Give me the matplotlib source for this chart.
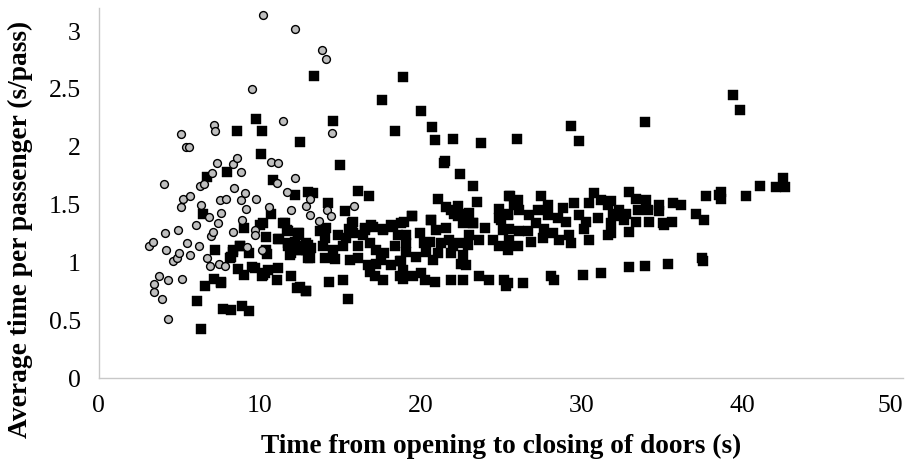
import matplotlib
matplotlib.use("Agg")
import matplotlib.pyplot as plt

# Series 1 (grey circles)
circle_x = [3.13, 3.38, 3.43, 3.43, 3.73, 3.93, 4.02, 4.1, 4.2, 4.27, 4.3, 4.62, 4.83, 4.89, 4.97,
            5.09, 5.1, 5.14, 5.26, 5.4, 5.45, 5.6, 5.65, 5.69, 6.07, 6.21, 6.27, 6.34, 6.54, 6.71,
            6.85, 6.89, 7.0, 7.06, 7.12, 7.18, 7.22, 7.33, 7.41, 7.45, 7.56, 7.6, 7.87, 7.93, 8.34,
            8.34, 8.4, 8.59, 8.86, 8.86, 8.88, 9.11, 9.13, 9.21, 9.5, 9.69, 9.73, 9.75, 10.14, 10.19,
            10.6, 10.73, 11.1, 11.16, 11.47, 11.72, 11.95, 12.17, 12.2, 12.86, 13.1, 13.1, 13.66,
            13.86, 14.12, 14.2, 14.45, 14.48, 15.84]
circle_y = [1.14, 1.18, 0.81, 0.74, 0.88, 0.68, 1.68, 1.25, 1.11, 0.51, 0.85, 1.01, 1.04, 1.28, 1.08,
            1.48, 2.11, 0.86, 1.55, 2.0, 1.17, 2.0, 1.57, 1.06, 1.32, 1.14, 1.66, 1.50, 1.68, 1.04,
            1.39, 0.97, 1.23, 1.77, 1.26, 2.19, 2.14, 1.86, 1.34, 0.99, 1.54, 1.43, 0.97, 1.55, 1.85,
            1.26, 1.64, 1.90, 1.78, 1.54, 1.37, 1.60, 1.46, 1.13, 2.5, 1.28, 1.24, 1.55, 1.11, 3.14,
            1.48, 1.87, 1.69, 1.86, 2.22, 1.61, 1.45, 1.73, 3.02, 1.49, 1.55, 1.41, 1.36,
            2.84, 2.76, 1.45, 1.40, 2.12, 1.49]

# Series 2 (black squares)
square_x = [9.77, 8.6, 10.12, 12.5, 10.06, 13.4, 18.94, 17.59, 20.06, 14.54, 18.42, 20.74, 20.87,
            22.05, 23.77, 25.99, 21.5, 29.35, 29.87, 33.98, 39.4, 39.86,
            7.97, 6.75, 10.8, 12.17, 13.0, 6.48, 10.7, 9.0, 10.04, 11.45, 11.72, 12.4, 11.2, 10.4,
            7.25, 8.34, 8.8, 9.32, 8.24, 10.48, 11.76, 12.17, 11.97, 13.0, 13.1, 12.38, 8.66, 9.05,
            9.55, 10.3, 10.15, 11.12, 11.06, 11.97, 7.14, 7.58, 6.63, 6.13, 12.34, 12.9, 7.7, 8.24,
            8.93, 9.34, 6.38,
            11.55, 10.2, 11.14, 11.76, 11.76, 12.38, 12.38, 12.9, 11.86, 8.34, 8.76, 8.14, 10.42,
            9.69, 10.2, 10.52, 7.62,
            14.97, 21.45, 22.48, 23.29, 16.1, 16.77, 21.08, 23.5, 14.24, 15.32, 15.8, 21.6, 22.32,
            21.9, 23.0, 22.32, 23.26, 23.98, 24.87, 25.43, 25.57, 25.84, 25.01, 19.46, 19.0, 20.65,
            18.18, 17.66, 16.94, 16.53, 15.55, 15.8, 14.29, 15.18, 12.86, 15.49, 12.5, 13.3,
            15.73, 12.42, 12.9, 13.73, 14.14, 14.04, 14.86, 15.39, 16.52, 17.04, 16.42, 17.66, 18.28,
            18.59, 18.8, 12.38, 13.21, 13.93, 14.55, 15.18, 16.1, 16.83, 17.25, 17.76, 18.39, 13.0,
            14.04, 14.66, 15.59, 16.1, 16.73, 17.25, 17.55, 18.18, 18.7, 16.83, 17.14, 17.66, 18.7,
            19.48, 20.66, 22.11, 22.94, 22.63, 23.25, 24.91, 25.11, 19.11, 19.94, 20.97, 21.6,
            21.8, 22.42, 23.04, 23.66, 19.11, 20.21, 20.56, 21.28, 22.01, 22.94, 24.49, 24.91, 25.42,
            19.11, 19.73, 20.35, 21.08, 21.9, 22.63, 18.8, 20.77, 22.53, 22.84, 18.9, 18.9, 19.52,
            20.04, 20.25, 20.87, 21.9, 22.67, 23.66, 24.24, 25.16, 25.32,
            25.53, 26.04, 27.5, 27.91, 28.84, 29.57, 30.81, 30.5, 31.22, 31.63, 31.94, 25.42, 26.15,
            26.77, 27.29, 27.91, 28.53, 29.05, 29.88, 30.29, 31.01, 31.84, 25.53, 26.15, 26.67, 27.19,
            27.7, 28.22, 29.25, 30.19, 30.5, 31.63, 25.53, 26.04, 26.87, 27.6, 28.63, 29.36, 25.42,
            26.35, 28.12, 28.32, 30.08, 31.22,
            32.94, 33.4, 34.02, 34.84, 35.67, 36.19, 37.74, 38.57, 31.84, 32.36, 32.78, 33.5, 34.12,
            34.84, 37.12, 37.64, 32.05, 32.67, 33.4, 34.23, 35.05, 35.63, 31.84, 32.98, 32.94, 33.98,
            35.36, 37.5, 37.58, 35.16,
            38.68, 38.68, 40.23, 41.1, 42.09, 42.55, 42.65]
square_y = [2.24, 2.14, 2.14, 2.04, 1.94, 2.61, 2.60, 2.40, 2.31, 2.22, 2.14, 2.17, 2.06,
            2.07, 2.03, 2.07, 1.88, 2.18, 2.05, 2.21, 2.45, 2.32,
            1.78, 1.74, 1.71, 1.58, 1.61, 1.42, 1.42, 1.30, 1.32, 1.34, 1.28, 1.25, 1.20, 1.22,
            1.11, 1.11, 1.14, 1.08, 1.05, 1.07, 1.14, 1.18, 1.08, 1.15, 1.04, 1.11, 0.94, 0.89,
            0.96, 0.91, 0.88, 0.95, 0.85, 0.88, 0.86, 0.82, 0.80, 0.67, 0.78, 0.75, 0.60, 0.59,
            0.62, 0.58, 0.42,
            1.34, 1.34, 1.20, 1.27, 1.17, 1.24, 1.14, 1.11, 1.06, 1.09, 1.14, 1.04, 1.11,
            0.95, 0.89, 0.93, 0.83,
            1.84, 1.86, 1.76, 1.66, 1.62, 1.57, 1.55, 1.52, 1.51, 1.44, 1.35, 1.48, 1.49,
            1.45, 1.43, 1.40, 1.34, 1.30, 1.46, 1.41, 1.57, 1.50, 1.37, 1.40, 1.35, 1.37,
            1.32, 1.29, 1.32, 1.28, 1.29, 1.25, 0.83, 0.85, 0.75, 0.68, 0.79, 1.60,
            1.34, 1.25, 1.17, 1.27, 1.30, 1.21, 1.24, 1.21, 1.30, 1.31, 1.24, 1.28, 1.31,
            1.24, 1.34, 1.11, 1.12, 1.14, 1.11, 1.14, 1.14, 1.17, 1.11, 1.08, 1.14, 1.04,
            1.04, 1.03, 1.02, 1.04, 0.98, 0.99, 1.02, 0.98, 1.01, 0.92, 0.88, 0.85, 0.88,
            1.40, 1.37, 1.42, 1.42, 1.34, 1.34, 1.38, 1.28, 1.24, 1.25, 1.28, 1.30,
            1.19, 1.17, 1.24, 1.19, 1.17, 1.17, 1.18, 1.17, 1.14, 1.15, 1.19, 1.14, 1.11,
            1.09, 1.05, 1.09, 1.08, 1.08, 1.06, 1.01, 1.02, 0.99, 0.98, 0.93, 0.86, 0.88,
            0.91, 0.85, 0.83, 0.85, 0.85, 0.88, 0.85, 0.85, 0.80,
            1.57, 1.54, 1.57, 1.50, 1.47, 1.51, 1.60, 1.51, 1.54, 1.50, 1.42, 1.42, 1.45,
            1.41, 1.45, 1.41, 1.38, 1.35, 1.41, 1.35, 1.38, 1.34, 1.29, 1.27, 1.27, 1.34,
            1.29, 1.25, 1.24, 1.29, 1.19, 1.24, 1.19, 1.14, 1.18, 1.21, 1.19, 1.17, 0.82,
            0.82, 0.88, 0.85, 0.89, 0.91,
            1.61, 1.55, 1.54, 1.50, 1.51, 1.50, 1.57, 1.58, 1.53, 1.45, 1.42, 1.45, 1.45,
            1.44, 1.42, 1.37, 1.40, 1.37, 1.35, 1.35, 1.34, 1.35, 1.25, 1.26, 0.96, 0.97,
            0.99, 1.04, 1.01, 1.32,
            1.61, 1.55, 1.57, 1.66, 1.65, 1.73, 1.65]

x_ticks = [0, 10, 20, 30, 40, 50]
y_ticks = [0, 0.5, 1, 1.5, 2, 2.5, 3]
y_tick_labels = ["0", "0.5", "1", "1.5", "2", "2.5", "3"]
x_label = "Time from opening to closing of doors (s)"
y_label = "Average time per passenger (s/pass)"

plt.rcParams['font.family'] = ['Liberation Serif', 'DejaVu Serif']

fig = plt.figure(figsize=(9.07, 4.69), dpi=100)
ax = fig.add_axes([0.109, 0.194, 0.8866, 0.789])

ax.scatter(square_x, square_y, marker='s', s=48, c='black', edgecolors='black',
           linewidths=0.3, zorder=2)
ax.scatter(circle_x, circle_y, marker='o', s=32, c='#BFBFBF', edgecolors='black',
           linewidths=1.0, zorder=3)

ax.set_xlim(0, 50)
ax.set_ylim(0, 3.2)
ax.set_xticks(x_ticks)
ax.set_yticks(y_ticks)
ax.set_yticklabels(y_tick_labels)
ax.tick_params(axis='both', length=0, labelsize=18.5, colors='black')
ax.tick_params(axis='x', pad=12)
ax.tick_params(axis='y', pad=13)
ax.get_xticklabels()[-1].set_horizontalalignment('right')

for side in ['top', 'right']:
    ax.spines[side].set_visible(False)
for side in ['left', 'bottom']:
    ax.spines[side].set_color('#C8C8C8')
    ax.spines[side].set_linewidth(1.0)

ax.set_xlabel(x_label, fontsize=19.8, fontweight='bold', labelpad=12)
fig.text(20 / 907, 1 - 229 / 469, y_label, rotation=90, ha='center', va='center',
         fontsize=19.8, fontweight='bold')

fig.savefig("out.png", dpi=100)
